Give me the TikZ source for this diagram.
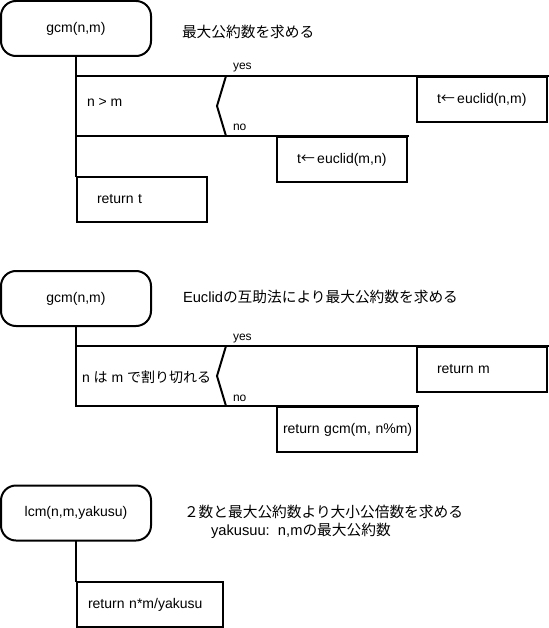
\documentclass[tikz,border=0pt]{standalone}
\usepackage{fontspec}
\setmainfont{Liberation Sans}
\newfontfamily\jp{Noto Sans CJK JP}
\usetikzlibrary{positioning,calc}

\begin{document}
\begin{tikzpicture}[x=1pt, y=-1pt, line width=2pt,
  term/.style={draw, rounded corners=15pt, minimum width=150pt, minimum height=55pt, font=\fontsize{14}{16}\selectfont},
  box/.style={draw, anchor=north west, text width=#1, minimum height=45pt, inner xsep=0pt, align=left, font=\fontsize{14}{16}\selectfont},
  lbl/.style={inner sep=0pt, anchor=base west, font=\fontsize{14}{16}\selectfont},
  yn/.style={inner sep=0pt, anchor=base west, font=\fontsize{12}{14}\selectfont},
  note/.style={inner sep=0pt, anchor=west, font=\fontsize{14.7}{18}\selectfont},
  wire/.style={line cap=rect}]
  \useasboundingbox (0,0) rectangle (548,628);
  % gcm with if
  \node[term] (gcm1) at (76,28.5) {gcm(n,m)};
  \node[note] (head1) at (181,32) {\jp 最大公約数を求める};
  \coordinate (top1) at (76,76);
  \coordinate (bot1) at (76,136);
  \node[box=130pt] (yes1) at (416,76) {\hspace*{20pt}t{\jp ←}\,euclid(n,m)};
  \node[box=130pt] (no1) at (276,136) {\hspace*{20pt}t{\jp ←}\,euclid(m,n)};
  \node[box=130pt] (ret1) at (76,176) {\hspace*{20pt}return t};
  \node[lbl] (cond1) at (86,107) {n > m};
  \coordinate (tip1) at (217,106);
  \node[yn] (yes1l) at (232,70) {yes};
  \node[yn] (no1l) at (232,131) {no};
  \draw[wire] (gcm1.south) -- (ret1.north west);
  \draw[wire] (top1) -- (yes1.north east);
  \draw[wire] (bot1) -- (no1.north east);
  \draw ($(top1)+(150,0)$) -- (tip1) -- ($(bot1)+(150,0)$);
  % gcm, Euclid
  \node[term] (gcm2) at (76,298.5) {gcm(n,m)};
  \node[note] (head2) at (182,297) {Euclid{\jp の互助法により最大公約数を求める}};
  \coordinate (top2) at (76,346);
  \coordinate (bot2) at (76,406);
  \node[box=130pt] (yes2) at (416,346) {\hspace*{20pt}return m};
  \node[box=140pt] (no2) at (276,406) {\hspace*{6pt}return gcm(m, n\%m)};
  \node[lbl] (cond2) at (81,382) {n {\jp は} m {\jp で割り切れる}};
  \coordinate (tip2) at (217,376);
  \node[yn] (yes2l) at (232,340) {yes};
  \node[yn] (no2l) at (232,401) {no};
  \draw[wire] (gcm2.south) -- (bot2);
  \draw[wire] (top2) -- (yes2.north east);
  \draw[wire] (bot2) -- (no2.north east);
  \draw ($(top2)+(150,0)$) -- (tip2) -- ($(bot2)+(150,0)$);
  % lcm
  \node[term] (lcm3) at (76,513) {lcm(n,m,yakusu)};
  \node[note] (head3) at (183,512) {\jp ２数と最大公約数より大小公倍数を求める};
  \node[note] (head3b) at (210,531) {yakusuu:\ \ n,m{\jp の最大公約数}};
  \node[box=146pt] (ret3) at (76,581) {\hspace*{11pt}return n*m/yakusu};
  \draw[wire] (lcm3.south) -- (ret3.north west);
\end{tikzpicture}
\end{document}
